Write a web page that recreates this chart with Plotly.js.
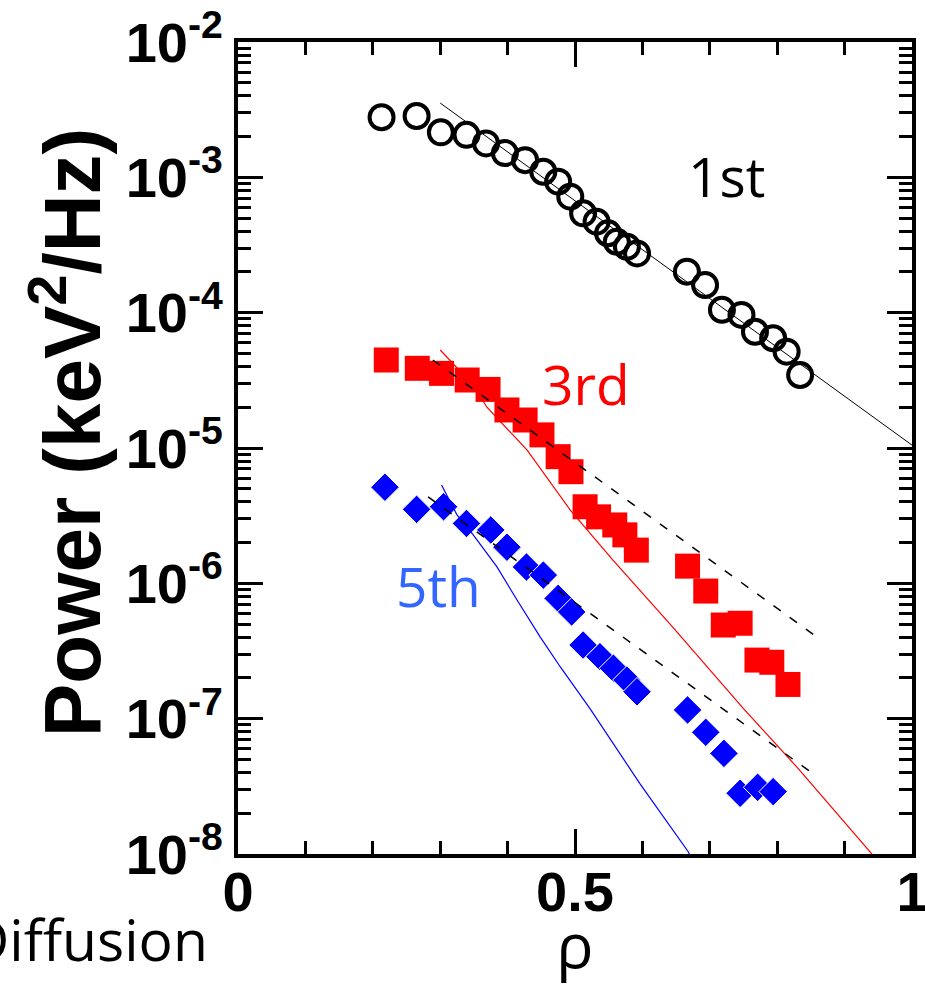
<!DOCTYPE html>
<html>
<head>
<meta charset="utf-8">
<script src="https://cdn.plot.ly/plotly-3.0.1.min.js"></script>
<style>
  html, body { margin: 0; padding: 0; background: #ffffff; }
  #chart { width: 925px; height: 986px; }
</style>
</head>
<body>
<div id="chart"></div>
<script>
// Fluctuation power profiles versus normalised radius rho, three harmonics.

// 1st harmonic (open circles)
const rho1 = [0.213, 0.265, 0.301, 0.339, 0.368, 0.396, 0.426, 0.453, 0.475, 0.493, 0.512, 0.532,
              0.549, 0.562, 0.577, 0.592, 0.666, 0.693, 0.718, 0.747, 0.767, 0.794, 0.814, 0.834];
const pow1 = [2.78e-3, 2.84e-3, 2.15e-3, 2.06e-3, 1.78e-3, 1.51e-3, 1.34e-3, 1.10e-3, 9.29e-4, 7.20e-4,
              5.42e-4, 4.70e-4, 3.86e-4, 3.34e-4, 3.07e-4, 2.74e-4, 2.01e-4, 1.60e-4, 1.05e-4, 9.62e-5,
              7.23e-5, 6.47e-5, 5.15e-5, 3.46e-5];

// 3rd harmonic (filled squares)
const rho3 = [0.220, 0.266, 0.302, 0.340, 0.371, 0.399, 0.426, 0.451, 0.475, 0.494, 0.515,
              0.535, 0.559, 0.574, 0.591, 0.667, 0.694, 0.720, 0.745, 0.770, 0.792, 0.816];
const pow3 = [4.47e-5, 3.88e-5, 3.56e-5, 3.18e-5, 2.71e-5, 1.91e-5, 1.61e-5, 1.25e-5, 8.63e-6, 6.68e-6,
              3.68e-6, 3.10e-6, 2.70e-6, 2.28e-6, 1.76e-6, 1.34e-6, 8.77e-7, 4.92e-7, 5.07e-7, 2.71e-7,
              2.61e-7, 1.79e-7];

// 5th harmonic (filled diamonds)
const rho5 = [0.218, 0.265, 0.305, 0.339, 0.375, 0.399, 0.428, 0.453, 0.475, 0.495, 0.512,
              0.537, 0.557, 0.577, 0.592, 0.667, 0.694, 0.721, 0.745, 0.771, 0.794];
const pow5 = [5.13e-6, 3.52e-6, 3.68e-6, 2.77e-6, 2.48e-6, 1.85e-6, 1.32e-6, 1.15e-6, 7.74e-7, 6.15e-7,
              3.50e-7, 2.87e-7, 2.36e-7, 1.93e-7, 1.58e-7, 1.16e-7, 7.93e-8, 5.54e-8, 2.81e-8, 3.11e-8,
              2.89e-8];

// Exponential fits (straight on the log scale)
const fit1Rho = [0.300, 1.000];
const fit1Pow = [3.54e-3, 1.05e-5];
const fit3Rho = [0.289, 0.859];
const fit3Pow = [4.47e-5, 4.01e-7];
const fit5Rho = [0.282, 0.852];
const fit5Pow = [4.35e-6, 3.96e-8];

// Diffusion model curves for the 3rd and 5th harmonics
const diff3Rho = [0.300, 0.349, 0.369, 0.429, 0.493, 0.556, 0.645, 0.700, 0.749, 0.829, 0.893, 0.942];
const diff3Pow = [5.30e-5, 2.92e-5, 2.01e-5, 9.66e-6, 3.48e-6, 1.49e-6, 4.75e-7, 2.29e-7, 1.20e-7,
                  4.40e-8, 1.87e-8, 9.8e-9];
const diff5Rho = [0.302, 0.325, 0.349, 0.384, 0.414, 0.448, 0.478, 0.522, 0.596, 0.646, 0.668, 0.670];
const diff5Pow = [5.33e-6, 3.20e-6, 2.28e-6, 1.33e-6, 7.53e-7, 4.04e-7, 2.42e-7, 1.19e-7, 3.33e-8,
                  1.50e-8, 1.04e-8, 9.9e-9];

// Axis ticks
const xTickVals = [0, 0.5, 1];
const xTickText = ['0', '0.5', '1'];
const yExponents = [-8, -7, -6, -5, -4, -3, -2];

const yTickVals = yExponents.map(e => Math.pow(10, e));
const yTickText = yExponents.map(e => '10<sup>' + e + '</sup>');
const yMinorVals = [];
yExponents.slice(0, -1).forEach(e => {
  for (let m = 2; m <= 9; m++) yMinorVals.push(m * Math.pow(10, e));
});

const boldFamily = 'Liberation Sans, Arial, sans-serif';
const tickFont = { family: boldFamily, size: 56, color: '#000000', weight: 'bold' };
const textFamily = 'Open Sans, Noto Sans, sans-serif';

const traces = [
  { x: rho1, y: pow1, mode: 'markers', type: 'scatter',
    marker: { symbol: 'circle-open', size: 24, color: '#000000', line: { width: 4, color: '#000000' } } },
  { x: rho3, y: pow3, mode: 'markers', type: 'scatter',
    marker: { symbol: 'square', size: 25, color: '#ff0000', line: { width: 0 } } },
  { x: rho5, y: pow5, mode: 'markers', type: 'scatter',
    marker: { symbol: 'diamond', size: 22, color: '#0000ff', line: { width: 1, color: '#ffffff' } } },
  { x: fit1Rho, y: fit1Pow, mode: 'lines', type: 'scatter',
    line: { color: '#000000', width: 1 } },
  { x: diff3Rho, y: diff3Pow, mode: 'lines', type: 'scatter',
    line: { color: '#ff0000', width: 1.2 } },
  { x: diff5Rho, y: diff5Pow, mode: 'lines', type: 'scatter',
    line: { color: '#0000ff', width: 1.2 } },
  { x: fit3Rho, y: fit3Pow, mode: 'lines', type: 'scatter',
    line: { color: '#000000', width: 1.5, dash: '9px,11px' } },
  { x: fit5Rho, y: fit5Pow, mode: 'lines', type: 'scatter',
    line: { color: '#000000', width: 1.5, dash: '9px,11px' } }
];

const layout = {
  width: 925,
  height: 986,
  margin: { l: 238, r: 13, t: 42, b: 132 },
  paper_bgcolor: '#ffffff',
  plot_bgcolor: '#ffffff',
  showlegend: false,
  xaxis: {
    range: [0, 1],
    tickmode: 'array', tickvals: xTickVals, ticktext: xTickText,
    ticks: 'inside', ticklen: 25, tickwidth: 3, tickcolor: '#000000',
    minor: { ticks: 'inside', ticklen: 13, tickwidth: 3, tickcolor: '#000000', dtick: 0.1, tick0: 0, showgrid: false },
    mirror: 'allticks', showline: true, linewidth: 4, linecolor: '#000000',
    showgrid: false, zeroline: false,
    tickfont: tickFont,
    ticklabelstandoff: -14,
    ticklabeloverflow: 'allow',
    title: { text: 'ρ', font: { family: textFamily, size: 62, color: '#000000' }, standoff: 16 }
  },
  yaxis: {
    type: 'log',
    range: [-8, -2],
    tickmode: 'array', tickvals: yTickVals, ticktext: yTickText,
    ticks: 'inside', ticklen: 25, tickwidth: 3, tickcolor: '#000000',
    minor: { ticks: 'inside', ticklen: 13, tickwidth: 3, tickcolor: '#000000', tickmode: 'array', tickvals: yMinorVals, showgrid: false },
    mirror: 'allticks', showline: true, linewidth: 4, linecolor: '#000000',
    showgrid: false, zeroline: false,
    tickfont: tickFont,
    ticklabeloverflow: 'allow'
  },
  annotations: [
    // vertical axis label
    { x: -0.2552, y: 0.5197, xref: 'paper', yref: 'paper', text: 'Power (keV<sup>2</sup>/Hz)', showarrow: false,
      textangle: -90, font: { family: boldFamily, size: 80, color: '#000000', weight: 'bold' },
      xanchor: 'center', yanchor: 'middle' },
    { x: 0.7255, y: -2.99, xref: 'x', yref: 'y', text: '1st', showarrow: false,
      font: { family: textFamily, size: 55, color: '#000000' }, xanchor: 'center', yanchor: 'middle' },
    { x: 0.516, y: -4.527, xref: 'x', yref: 'y', text: '3rd', showarrow: false,
      font: { family: textFamily, size: 55, color: '#ff0000' }, xanchor: 'center', yanchor: 'middle' },
    { x: 0.298, y: -6.019, xref: 'x', yref: 'y', text: '5th', showarrow: false,
      font: { family: textFamily, size: 55, color: '#3366ff' }, xanchor: 'center', yanchor: 'middle' },
    { x: -0.0415, y: -0.105, xref: 'paper', yref: 'paper', text: 'Diffusion', showarrow: false,
      font: { family: textFamily, size: 57, color: '#000000' }, xanchor: 'right', yanchor: 'middle' }
  ]
};

Plotly.newPlot('chart', traces, layout, { displayModeBar: false, staticPlot: true });
</script>
</body>
</html>
